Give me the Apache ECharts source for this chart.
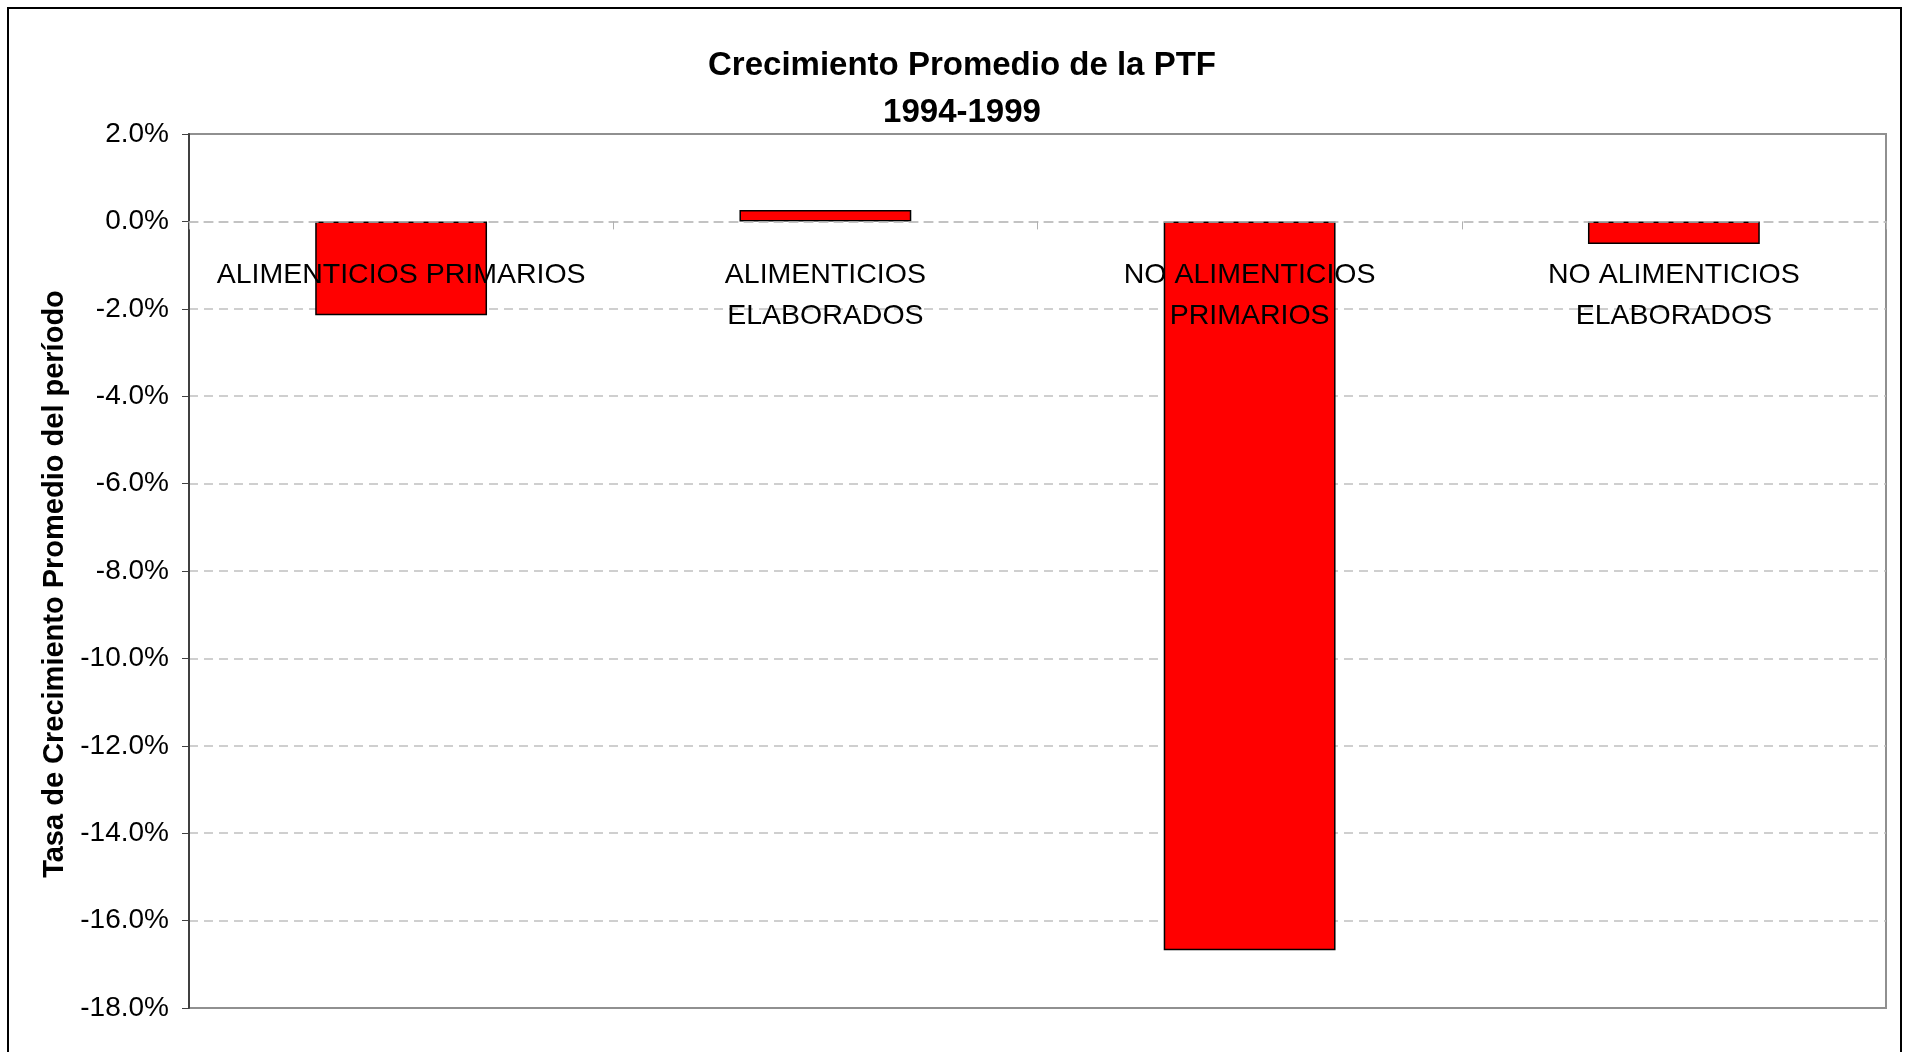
<!DOCTYPE html>
<html>
<head>
<meta charset="utf-8">
<script src="https://cdn.jsdelivr.net/npm/echarts@6/dist/echarts.min.js"></script>
<style>
  html, body { margin: 0; padding: 0; background: #fff; }
  #chart { width: 1908px; height: 1052px; }
</style>
</head>
<body>
<div id="chart"></div>
<script>
// categorias y tasas de crecimiento (%)
const categorias = [
  "ALIMENTICIOS PRIMARIOS",
  "ALIMENTICIOS\nELABORADOS",
  "NO ALIMENTICIOS\nPRIMARIOS",
  "NO ALIMENTICIOS\nELABORADOS"
];
const tasas = [-2.15, 0.26, -16.68, -0.52];
const tituloTexto = "Crecimiento Promedio de la PTF\n1994-1999";
const ejeNombre = "Tasa de Crecimiento Promedio del período";

const fuente = "Liberation Sans, Arial, sans-serif";
const chart = echarts.init(document.getElementById("chart"));

const options = {
  backgroundColor: "#fff",
  animation: false,
  graphic: [
    {
      type: "rect",
      shape: { x: 8, y: 8, width: 1893, height: 1070 },
      style: { fill: "none", stroke: "#000", lineWidth: 2 },
      silent: true
    },
    {
      // titulo, centrado sobre x = 962
      type: "text",
      x: 962,
      y: 42,
      silent: true,
      style: {
        text: tituloTexto,
        align: "center",
        verticalAlign: "top",
        fontFamily: fuente,
        fontSize: 33,
        fontWeight: "bold",
        lineHeight: 47,
        fill: "#000"
      }
    }
  ],
  grid: {
    left: 189,
    right: 22,
    top: 134,
    bottom: 44,
    outerBoundsMode: "none",
    containLabel: false,
    show: true,
    borderColor: "#909090",
    borderWidth: 2,
    backgroundColor: "#fff"
  },
  xAxis: {
    type: "category",
    data: categorias,
    axisLine: {
      show: true,
      onZero: true,
      lineStyle: { color: "#c0c0c0", type: [9, 6], width: 1.5 }
    },
    axisTick: {
      show: true,
      length: 8,
      lineStyle: { color: "#b0b0b0", width: 1 }
    },
    axisLabel: {
      interval: 0,
      // las etiquetas van justo debajo de la línea del 0%
      margin: -753,
      color: "#000",
      fontFamily: fuente,
      fontSize: 28.5,
      lineHeight: 41
    },
    z: 10
  },
  yAxis: {
    type: "value",
    min: -18,
    max: 2,
    interval: 2,
    name: ejeNombre,
    nameLocation: "middle",
    nameGap: 119,
    nameTextStyle: {
      fontFamily: fuente,
      fontSize: 29,
      fontWeight: "bold",
      color: "#000",
      padding: [0, 26, 0, 0]
    },
    axisLine: { show: true, onZero: false, lineStyle: { color: "#404040", width: 2 } },
    axisTick: { show: true, length: 7, lineStyle: { color: "#404040", width: 1 } },
    axisLabel: {
      margin: 20,
      color: "#000",
      fontFamily: fuente,
      fontSize: 28,
      formatter: function (v) {
        return v.toFixed(1) + "%";
      }
    },
    splitLine: {
      show: true,
      showMinLine: false,
      showMaxLine: false,
      lineStyle: { color: "#c0c0c0", type: [9, 6], width: 1.5 }
    }
  },
  series: [
    {
      type: "bar",
      data: tasas,
      barWidth: "40.5%",
      itemStyle: {
        color: "#ff0000",
        borderColor: "#000",
        borderWidth: 1.5
      }
    }
  ]
};

chart.setOption(options);
</script>
</body>
</html>
